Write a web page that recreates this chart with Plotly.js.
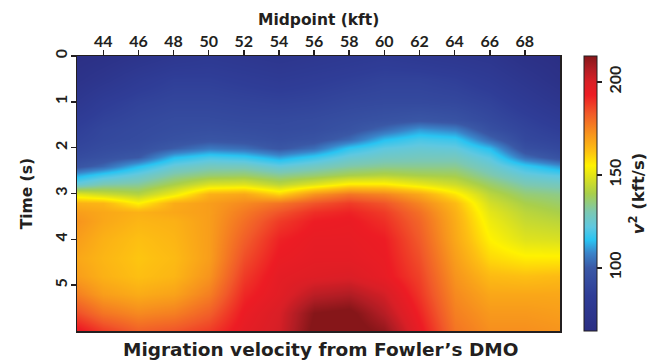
<!DOCTYPE html>
<html>
<head>
<meta charset="utf-8">
<script src="https://cdn.plot.ly/plotly-3.0.1.min.js"></script>
<style>html,body{margin:0;padding:0;background:#fff;}#chart{width:660px;height:362px;}</style>
</head>
<body>
<div id="chart"></div>
<script>
// Midpoint positions (kft), columns of the grid
const midpoints = [42.5, 44, 46, 48, 50, 52, 54, 56, 58, 60, 62, 64, 66, 68, 70];
// Time samples (s), rows of the grid
const times = [0, 0.5, 1.0, 1.4, 1.6, 1.8, 2.0, 2.2, 2.4, 2.6, 2.8, 3.0, 3.2, 3.4, 3.6, 4.0, 4.4, 4.8, 5.2, 5.6, 6.0];
// Squared migration velocity v^2 (kft/s), one row per time sample
const vsq = [
  /*0.0*/ [68, 70, 74, 78, 80, 78, 76, 78, 80, 82, 80, 78, 76, 70, 67],
  /*0.5*/ [72, 76, 82, 86, 86, 84, 82, 84, 86, 88, 88, 86, 82, 76, 70],
  /*1.0*/ [78, 84, 88, 90, 90, 89, 88, 89, 91, 92, 92, 91, 88, 82, 76],
  /*1.4*/ [84, 88, 91, 93, 93, 92, 92, 93, 95, 97, 99, 97, 92, 87, 82],
  /*1.6*/ [86, 90, 92, 94, 95, 94, 93, 94, 97, 103, 110, 107, 95, 89, 85],
  /*1.8*/ [88, 91, 93, 96, 98, 97, 95, 97, 103, 114, 119, 117, 103, 91, 88],
  /*2.0*/ [90, 93, 95, 101, 106, 104, 99, 104, 116, 122, 124, 123, 114, 95, 91],
  /*2.2*/ [93, 96, 100, 114, 119, 117, 111, 117, 124, 127, 128, 128, 121, 104, 96],
  /*2.4*/ [98, 103, 114, 124, 128, 128, 123, 127, 131, 133, 133, 133, 126, 117, 110],
  /*2.6*/ [112, 118, 124, 132, 136, 137, 133, 136, 140, 142, 140, 139, 131, 124, 121],
  /*2.8*/ [124, 130, 132, 140, 148, 149, 143, 149, 156, 156, 151, 146, 137, 130, 128],
  /*3.0*/ [150, 146, 142, 152, 166, 168, 160, 172, 178, 175, 168, 157, 143, 136, 134],
  /*3.2*/ [166, 165, 155, 167, 170, 174, 178, 184, 188, 184, 175, 164, 147, 140, 137],
  /*3.4*/ [170, 168, 166, 168, 170, 177, 184, 190, 192, 188, 179, 166, 150, 143, 140],
  /*3.6*/ [172, 168, 165, 166, 170, 179, 188, 193, 194, 190, 181, 167, 152, 145, 143],
  /*4.0*/ [170, 166, 163, 165, 170, 182, 192, 195, 195, 193, 183, 168, 155, 149, 148],
  /*4.4*/ [168, 165, 162, 164, 170, 185, 194, 196, 196, 194, 185, 170, 159, 156, 156],
  /*4.8*/ [170, 166, 163, 165, 172, 188, 196, 198, 199, 195, 187, 172, 164, 163, 164],
  /*5.2*/ [176, 170, 167, 169, 176, 191, 197, 205, 207, 201, 189, 174, 168, 168, 168],
  /*5.6*/ [185, 178, 174, 176, 182, 194, 200, 214, 216, 206, 192, 176, 171, 171, 170],
  /*6.0*/ [195, 188, 182, 184, 188, 196, 201, 216, 218, 212, 195, 178, 173, 173, 172]
];
const xTicks = [44, 46, 48, 50, 52, 54, 56, 58, 60, 62, 64, 66, 68];
const yTicks = [0, 1, 2, 3, 4, 5];
const cbTicks = [100, 150, 200];

const zmin = 66, zmax = 214;
const stops = [
  [66, '#2b2e83'], [85, '#2f3d97'], [100, '#3a58a6'], [108, '#3a84c9'],
  [115, '#29c4f2'], [122, '#5fc8e0'], [130, '#7cc8b2'], [140, '#a9cf4a'],
  [148, '#d9e021'], [155, '#fff200'], [163, '#fdbf12'], [172, '#f7941d'],
  [183, '#f15a29'], [193, '#ed1c24'], [200, '#d91f26'], [207, '#b11d24'], [214, '#861619']
];
const colorscale = stops.map(s => [(s[0] - zmin) / (zmax - zmin), s[1]]);

const TICKFONT = 'Lato, "DejaVu Sans", sans-serif';
const TITLEFONT = '"DejaVu Sans", Lato, sans-serif';
const ink = '#231f20';

const trace = {
  type: 'heatmap',
  x: midpoints, y: times, z: vsq,
  zmin: zmin, zmax: zmax,
  zsmooth: 'best',
  colorscale: colorscale,
  colorbar: {
    x: (592 - 77) / 491, xanchor: 'left', xpad: 0,
    y: 0.5, yanchor: 'middle', ypad: 0, len: 1, lenmode: 'fraction',
    thickness: 13, outlinecolor: ink, outlinewidth: 1,
    tickmode: 'array', tickvals: cbTicks, ticktext: cbTicks.map(String),
    ticks: 'outside', ticklen: 5, tickwidth: 1.5, tickcolor: ink,
    ticklabelstandoff: 7,
    tickangle: -90,
    tickfont: {family: TICKFONT, size: 16, color: ink, weight: 'bold'},
    title: {text: '<i>v</i><sup>2</sup> (kft/s)', side: 'right',
            font: {family: TITLEFONT, size: 16.5, color: ink, weight: 'bold'}}
  }
};

const layout = {
  width: 660, height: 362,
  margin: {l: 77, r: 92, t: 56, b: 31},
  paper_bgcolor: '#ffffff', plot_bgcolor: '#ffffff',
  font: {family: TICKFONT, color: ink},
  xaxis: {
    side: 'top', range: [42.5, 70], autorange: false,
    tickmode: 'array', tickvals: xTicks, ticktext: xTicks.map(String),
    ticks: 'outside', ticklen: 5, tickwidth: 1.5, tickcolor: ink,
    ticklabelstandoff: -4,
    showline: true, mirror: true, linecolor: ink, linewidth: 1.5,
    showgrid: false, zeroline: false,
    tickfont: {family: TICKFONT, size: 16, color: ink, weight: 'bold'}
  },
  yaxis: {
    range: [6, 0], autorange: false,
    tickmode: 'array', tickvals: yTicks, ticktext: yTicks.map(String),
    ticks: 'outside', ticklen: 5, tickwidth: 1.5, tickcolor: ink,
    ticklabelstandoff: -3,
    tickangle: -90,
    showline: true, mirror: true, linecolor: ink, linewidth: 1.5,
    showgrid: false, zeroline: false,
    tickfont: {family: TICKFONT, size: 16, color: ink, weight: 'bold'}
  },
  annotations: [
    {
      xref: 'paper', yref: 'paper', x: 0.5, y: (331 - 20) / 275,
      xanchor: 'center', yanchor: 'middle', showarrow: false,
      text: 'Midpoint (kft)',
      font: {family: TITLEFONT, size: 15.5, color: ink, weight: 'bold'}
    },
    {
      xref: 'paper', yref: 'paper', x: (26 - 77) / 491, y: 0.5,
      xanchor: 'center', yanchor: 'middle', showarrow: false, textangle: -90,
      text: 'Time (s)',
      font: {family: TITLEFONT, size: 15.5, color: ink, weight: 'bold'}
    },
    {
      xref: 'paper', yref: 'paper', x: (325 - 77) / 491, y: (331 - 349) / 275,
      xanchor: 'center', yanchor: 'middle', showarrow: false,
      text: 'Migration velocity from Fowler\u2019s DMO',
      font: {family: TITLEFONT, size: 18.5, color: ink, weight: 'bold'}
    }
  ]
};

Plotly.newPlot('chart', [trace], layout, {displayModeBar: false, staticPlot: true});
</script>
</body>
</html>
